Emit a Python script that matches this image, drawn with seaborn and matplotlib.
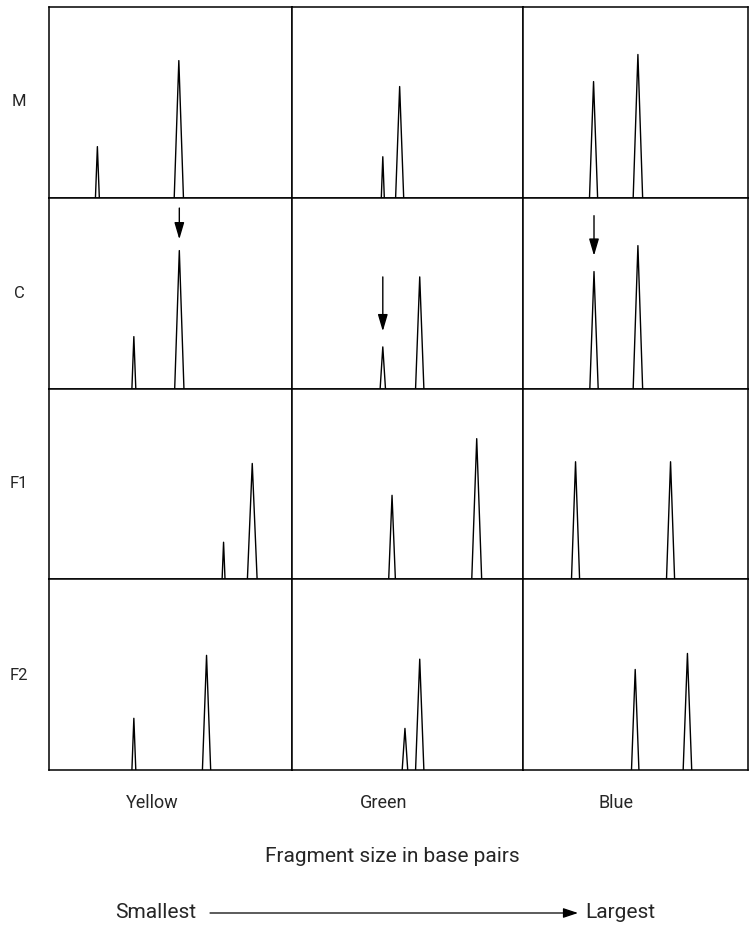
import matplotlib
matplotlib.use("Agg")
import matplotlib.pyplot as plt
from matplotlib import font_manager
import seaborn as sns
import pandas as pd

# Rows (samples) and columns (dye colours)
rows = ["M", "C", "F1", "F2"]
dyes = ["Yellow", "Green", "Blue"]

# Peak positions (% of panel width), one pair per row M, C, F1, F2
yellow_pos = [[19.9, 53.4], [34.9, 53.6], [71.8, 83.6], [34.9, 64.8]]
green_pos = [[39.3, 46.6], [39.3, 55.3], [43.3, 80.0], [48.9, 55.3]]
blue_pos = [[31.4, 51.1], [31.6, 51.1], [23.4, 65.6], [49.9, 73.1]]

# Peak heights (% of panel height)
yellow_height = [[26.8, 71.9], [27.2, 72.3], [19.4, 60.7], [27.1, 60.1]]
green_height = [[21.5, 58.3], [21.8, 58.5], [44.0, 73.7], [21.8, 58.1]]
blue_height = [[60.9, 75.1], [61.3, 74.9], [61.6, 61.6], [52.7, 61.1]]

# Peak half widths (% of panel width)
yellow_width = [[0.8, 1.9], [0.8, 1.9], [0.6, 2.0], [0.8, 1.7]]
green_width = [[0.65, 1.75], [1.15, 1.8], [1.45, 2.15], [1.2, 1.8]]
blue_width = [[1.8, 2.1], [1.85, 2.1], [1.8, 1.8], [1.65, 1.9]]

# Arrows in row C: which peak, start and end heights
arrow_peak = [1, 0, 0]
arrow_start = [94.6, 58.5, 90.6]
arrow_end = [78.2, 30.0, 69.6]

positions = {"Yellow": yellow_pos, "Green": green_pos, "Blue": blue_pos}
heights = {"Yellow": yellow_height, "Green": green_height, "Blue": blue_height}
widths = {"Yellow": yellow_width, "Green": green_width, "Blue": blue_width}

# Build triangle outlines for every peak
recs = []
for dye in dyes:
    for r, row in enumerate(rows):
        for p in range(2):
            x = positions[dye][r][p]
            h = heights[dye][r][p]
            w = widths[dye][r][p]
            for vx, vy in [(x - w, 0), (x, h), (x + w, 0)]:
                recs.append({"dye": dye, "row": row, "peak": p, "x": vx, "y": vy})
df = pd.DataFrame(recs)

sns.set_style("white")
names = {f.name for f in font_manager.fontManager.ttflist}
fam = [f for f in ["Liberation Sans Narrow", "Roboto", "DejaVu Sans"] if f in names]
plt.rcParams["font.family"] = fam

W, H = 749, 939
fig = plt.figure(figsize=(W / 100, H / 100), dpi=100)
gs = fig.add_gridspec(4, 3, left=49 / W, right=748 / W, top=1 - 7 / H, bottom=1 - 770 / H,
                      width_ratios=[243.3, 230.9, 225.3], wspace=0, hspace=0)

for r, row in enumerate(rows):
    for c, dye in enumerate(dyes):
        ax = fig.add_subplot(gs[r, c])
        sub = df[(df["dye"] == dye) & (df["row"] == row)]
        sns.lineplot(data=sub, x="x", y="y", units="peak", estimator=None, sort=False,
                     color="black", linewidth=1.0, ax=ax)
        ax.set_xlim(0, 100)
        ax.set_ylim(0, 100)
        ax.set_xticks([])
        ax.set_yticks([])
        ax.set_xlabel("")
        ax.set_ylabel("")
        for s in ax.spines.values():
            s.set_color("black")
            s.set_linewidth(1.1)
        if row == "C":
            px = positions[dye][r][arrow_peak[c]]
            ax.annotate("", xy=(px, arrow_end[c]), xytext=(px, arrow_start[c]),
                        arrowprops=dict(arrowstyle="-|>,head_length=0.85,head_width=0.25",
                                        mutation_scale=12, color="black", lw=1.0,
                                        shrinkA=0, shrinkB=0))

# Row labels
row_y = [102, 293, 484, 675]
for label, y in zip(rows, row_y):
    fig.text(19 / W, 1 - y / H, label, ha="center", va="center", fontsize=12)

# Column labels
col_x = [152, 384, 616]
for label, x in zip(dyes, col_x):
    fig.text(x / W, 1 - 803 / H, label, ha="center", va="center", fontsize=13)

fig.text(392 / W, 1 - 856 / H, "Fragment size in base pairs", ha="center", va="center", fontsize=15)

fig.text(196 / W, 1 - 913 / H, "Smallest", ha="right", va="center", fontsize=15)
fig.text(585 / W, 1 - 913 / H, "Largest", ha="left", va="center", fontsize=15)
fig.add_artist(matplotlib.patches.FancyArrowPatch(
    (210 / W, 1 - 913 / H), (578 / W, 1 - 913 / H), transform=fig.transFigure,
    arrowstyle="-|>,head_length=0.75,head_width=0.25", mutation_scale=12,
    color="black", lw=0.9, shrinkA=0, shrinkB=0))

fig.savefig("out.png", dpi=100, facecolor="white")
